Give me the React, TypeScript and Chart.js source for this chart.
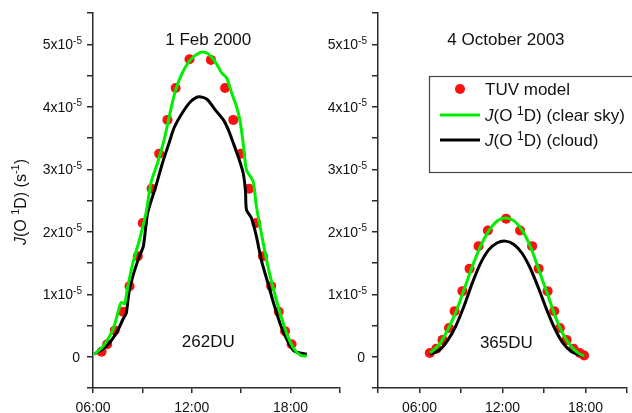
import React, { useEffect, useRef } from 'react';
import { Chart, registerables } from 'chart.js';

Chart.register(...registerables);

const FONT = '"Liberation Sans", Arial, Helvetica, sans-serif';

// Values: x = hour of day, y = J(O1D) in units of 1e-5 s^-1

// ---- Panel 1: 1 Feb 2000 (262DU)
const febTuvHours = [6.52, 6.86, 7.32, 7.82, 8.22, 8.72, 9.02, 9.56, 10.02, 10.52, 11.02, 11.86, 13.16, 14.02, 14.52, 14.98, 15.48, 15.92, 16.32, 16.82, 17.28, 17.66, 18.06];
const febTuvValues = [0.08, 0.2, 0.42, 0.72, 1.13, 1.61, 2.14, 2.69, 3.25, 3.79, 4.3, 4.76, 4.75, 4.3, 3.79, 3.25, 2.69, 2.14, 1.61, 1.13, 0.72, 0.41, 0.2];

const febClearHours = [6.08, 6.62, 7.22, 7.62, 7.72, 7.92, 8.12, 8.42, 8.82, 9.22, 9.52, 9.92, 10.32, 10.72, 11.02, 11.42, 11.92, 12.52, 12.92, 13.42, 13.82, 14.12, 14.42, 14.72, 14.92, 15.12, 15.32, 15.72, 15.92, 16.22, 16.62, 17.02, 17.42, 17.82, 18.22, 18.62, 18.98];
const febClearValues = [0.04, 0.17, 0.44, 0.81, 0.87, 0.85, 1.13, 1.5, 1.87, 2.3, 2.78, 3.1, 3.47, 3.95, 4.27, 4.54, 4.75, 4.87, 4.86, 4.72, 4.54, 4.46, 4.22, 4.0, 3.79, 3.42, 2.99, 2.81, 2.41, 1.98, 1.45, 1.02, 0.65, 0.33, 0.12, 0.02, 0.01];

const febCloudHours = [6.08, 6.82, 7.42, 7.82, 8.02, 8.18, 8.42, 8.82, 9.06, 9.32, 9.82, 10.22, 10.62, 10.92, 11.42, 11.92, 12.42, 12.92, 13.42, 13.92, 14.22, 14.52, 14.82, 15.12, 15.26, 15.32, 15.62, 15.92, 16.22, 16.62, 17.02, 17.42, 17.82, 18.22, 18.98];
const febCloudValues = [0.04, 0.17, 0.38, 0.6, 0.7, 1.02, 1.29, 1.61, 1.77, 2.3, 2.73, 3.1, 3.42, 3.66, 3.9, 4.08, 4.16, 4.12, 3.95, 3.79, 3.63, 3.42, 3.2, 2.94, 2.65, 2.35, 2.22, 1.93, 1.55, 1.18, 0.81, 0.49, 0.25, 0.09, 0.04];

// ---- Panel 2: 4 October 2003 (365DU)
const octTuvHours = [6.74, 7.22, 7.66, 8.13, 8.54, 9.1, 9.62, 10.27, 10.94, 12.26, 13.27, 14.14, 14.61, 15.26, 15.74, 16.15, 16.63, 17.13, 17.59, 17.9];
const octTuvValues = [0.06, 0.13, 0.27, 0.46, 0.73, 1.05, 1.41, 1.77, 2.02, 2.21, 2.02, 1.77, 1.41, 1.05, 0.73, 0.46, 0.27, 0.13, 0.06, 0.02];

const octClearHours = [6.77, 7.44, 8.06, 8.66, 9.26, 9.86, 10.46, 11.06, 11.66, 12.26, 12.86, 13.46, 14.06, 14.66, 15.26, 15.86, 16.46, 17.06, 17.54, 17.9];
const octClearValues = [0.06, 0.2, 0.44, 0.73, 1.1, 1.47, 1.79, 2.03, 2.18, 2.22, 2.17, 2.01, 1.74, 1.37, 1.0, 0.62, 0.33, 0.14, 0.05, 0.01];

const octCloudHours = [6.77, 7.4, 8.0, 8.6, 9.2, 9.8, 10.4, 11.0, 11.6, 12.2, 12.8, 13.4, 14.0, 14.6, 15.2, 15.8, 16.4, 17.0, 17.6, 17.9];
const octCloudValues = [0.04, 0.1, 0.25, 0.48, 0.8, 1.17, 1.49, 1.71, 1.82, 1.85, 1.8, 1.66, 1.42, 1.1, 0.75, 0.44, 0.21, 0.08, 0.03, 0.01];

// ---- Axis ticks / labels
const xLabelHours = [6, 12, 18];
const xTickLabels = ['06:00', '12:00', '18:00'];
const yLabelValues = [0, 1, 2, 3, 4, 5];
const yExponent = '-5';

const legendLabels = ['TUV model', '(clear sky)', '(cloud)'];

const RED = '#ff1010';
const GREEN = '#00ee00';
const BLACK = '#000000';
const AXIS = '#2a2a2a';
const TEXT = '#111111';

type Seg = { t: string; sup?: boolean; it?: boolean };

function segFont(s: Seg, size: number) {
  const sz = s.sup ? Math.round(size * 0.68) : size;
  return `${s.it ? 'italic ' : ''}${sz}px ${FONT}`;
}

function richWidth(ctx: CanvasRenderingContext2D, segs: Seg[], size: number) {
  let w = 0;
  for (const s of segs) {
    ctx.font = segFont(s, size);
    w += ctx.measureText(s.t).width;
  }
  return w;
}

function drawRich(ctx: CanvasRenderingContext2D, segs: Seg[], x: number, baseline: number, align: 'left' | 'right' | 'center', size: number) {
  const w = richWidth(ctx, segs, size);
  let cx = align === 'left' ? x : align === 'right' ? x - w : x - w / 2;
  ctx.textAlign = 'left';
  ctx.textBaseline = 'alphabetic';
  for (const s of segs) {
    ctx.font = segFont(s, size);
    ctx.fillText(s.t, cx, s.sup ? baseline - size * 0.38 : baseline);
    cx += ctx.measureText(s.t).width;
  }
}

const jSegs = (): Seg[] => [{ t: 'J', it: true }, { t: '(O ' }, { t: '1', sup: true }, { t: 'D)' }];

function pts(xs: number[], ys: number[]) {
  return xs.map((x, i) => ({ x, y: ys[i] }));
}

type PanelCfg = {
  xMin: number;
  xMax: number;
  yAxisWidth: number;
  padRight: number;
  tuv: { x: number; y: number }[];
  clear: { x: number; y: number }[];
  cloud: { x: number; y: number }[];
  title: string;
  titleAt: [number, number];
  du: string;
  duAt: [number, number];
  yTitle: boolean;
  legend: boolean;
};

function makeChart(canvas: HTMLCanvasElement, cfg: PanelCfg) {
  const axisScale = (isX: boolean) => ({
    type: 'linear' as const,
    min: isX ? cfg.xMin : -0.5,
    max: isX ? cfg.xMax : 5.5,
    ticks: { display: false, stepSize: isX ? 3 : 0.5 },
    grid: {
      display: true,
      drawOnChartArea: false,
      drawTicks: true,
      tickLength: isX ? 5 : 6,
      color: AXIS,
      tickColor: AXIS,
      lineWidth: 1.5,
    },
    border: { display: true, color: AXIS, width: 1.5 },
    afterFit: (s: any) => {
      if (isX) s.height = 25;
      else s.width = cfg.yAxisWidth;
    },
  });

  const plugin = {
    id: 'panelText',
    afterDraw(chart: any) {
      const ctx: CanvasRenderingContext2D = chart.ctx;
      const xs = chart.scales.x;
      const ys = chart.scales.y;
      ctx.save();
      ctx.fillStyle = TEXT;
      // y tick labels
      for (const v of yLabelValues) {
        const py = ys.getPixelForValue(v);
        if (v === 0) drawRich(ctx, [{ t: '0' }], ys.right - 13, py + 5, 'right', 14);
        else drawRich(ctx, [{ t: `${v}x10` }, { t: yExponent, sup: true }], ys.right - 11, py + 5, 'right', 14);
      }
      // x tick labels
      ctx.font = `14px ${FONT}`;
      ctx.textAlign = 'center';
      ctx.textBaseline = 'alphabetic';
      xLabelHours.forEach((h, i) => {
        ctx.fillText(xTickLabels[i], xs.getPixelForValue(h), 412);
      });
      // title and DU annotation
      drawRich(ctx, [{ t: cfg.title }], xs.getPixelForValue(cfg.titleAt[0]), ys.getPixelForValue(cfg.titleAt[1]) + 6, 'center', 17);
      drawRich(ctx, [{ t: cfg.du }], xs.getPixelForValue(cfg.duAt[0]), ys.getPixelForValue(cfg.duAt[1]) + 6, 'center', 17);
      // y title
      if (cfg.yTitle) {
        ctx.save();
        ctx.translate(25.5, 202);
        ctx.rotate(-Math.PI / 2);
        drawRich(ctx, [...jSegs(), { t: ' (s' }, { t: '-1', sup: true }, { t: ')' }], 0, 0, 'center', 16);
        ctx.restore();
      }
      // legend
      if (cfg.legend) {
        const bx = 129, by = 76, bw = 220, bh = 96;
        ctx.strokeStyle = '#444';
        ctx.lineWidth = 1.2;
        ctx.strokeRect(bx + 0.5, by + 0.5, bw, bh);
        // dot
        ctx.fillStyle = RED;
        ctx.beginPath();
        ctx.arc(160, 89, 5, 0, Math.PI * 2);
        ctx.fill();
        // lines
        ctx.lineWidth = 3;
        ctx.strokeStyle = GREEN;
        ctx.beginPath();
        ctx.moveTo(140, 115);
        ctx.lineTo(180, 115);
        ctx.stroke();
        ctx.strokeStyle = BLACK;
        ctx.beginPath();
        ctx.moveTo(140, 140);
        ctx.lineTo(180, 140);
        ctx.stroke();
        ctx.fillStyle = TEXT;
        drawRich(ctx, [{ t: legendLabels[0] }], 185, 95, 'left', 17);
        drawRich(ctx, [...jSegs(), { t: ' ' + legendLabels[1] }], 185, 121, 'left', 17);
        drawRich(ctx, [...jSegs(), { t: ' ' + legendLabels[2] }], 185, 146, 'left', 17);
      }
      ctx.restore();
    },
  };

  return new Chart(canvas, {
    type: 'scatter',
    data: {
      datasets: [
        {
          label: 'J(O1D) (clear sky)',
          data: cfg.clear,
          showLine: true,
          borderColor: GREEN,
          borderWidth: 3,
          pointRadius: 0,
          tension: 0.25,
          order: 1,
        },
        {
          label: 'J(O1D) (cloud)',
          data: cfg.cloud,
          showLine: true,
          borderColor: BLACK,
          borderWidth: 3,
          pointRadius: 0,
          tension: 0.25,
          order: 2,
        },
        {
          label: 'TUV model',
          data: cfg.tuv,
          showLine: false,
          pointRadius: 5,
          pointBackgroundColor: RED,
          pointBorderWidth: 0,
          backgroundColor: RED,
          borderColor: RED,
          order: 3,
        },
      ],
    },
    options: {
      responsive: false,
      animation: false,
      devicePixelRatio: 1,
      layout: { padding: { left: 0, top: 13, right: cfg.padRight, bottom: 0 } },
      plugins: { legend: { display: false }, tooltip: { enabled: false }, title: { display: false } },
      scales: { x: axisScale(true) as any, y: axisScale(false) as any },
    },
    plugins: [plugin],
  });
}

function Panel({ cfg, left, width }: { cfg: PanelCfg; left: number; width: number }) {
  const ref = useRef<HTMLCanvasElement | null>(null);
  useEffect(() => {
    if (!ref.current) return;
    const chart = makeChart(ref.current, cfg);
    return () => chart.destroy();
  }, []);
  return (
    <canvas
      ref={ref}
      width={width}
      height={413}
      style={{ position: 'absolute', left, top: 0, width, height: 413 }}
    />
  );
}

const leftCfg: PanelCfg = {
  xMin: 6,
  xMax: 21,
  yAxisWidth: 93,
  padRight: 3,
  tuv: pts(febTuvHours, febTuvValues),
  clear: pts(febClearHours, febClearValues),
  cloud: pts(febCloudHours, febCloudValues),
  title: '1 Feb 2000',
  titleAt: [13.0, 5.08],
  du: '262DU',
  duAt: [13.0, 0.25],
  yTitle: true,
  legend: false,
};

const rightCfg: PanelCfg = {
  xMin: 3,
  xMax: 21,
  yAxisWidth: 78,
  padRight: 4,
  tuv: pts(octTuvHours, octTuvValues),
  clear: pts(octClearHours, octClearValues),
  cloud: pts(octCloudHours, octCloudValues),
  title: '4 October 2003',
  titleAt: [12.25, 5.08],
  du: '365DU',
  duAt: [12.28, 0.23],
  yTitle: false,
  legend: true,
};

export default function App() {
  return (
    <div style={{ position: 'absolute', left: 0, top: 0, width: 632, height: 413, background: '#fff', overflow: 'hidden' }}>
      <Panel cfg={leftCfg} left={0} width={345} />
      <Panel cfg={rightCfg} left={300} width={332} />
    </div>
  );
}
